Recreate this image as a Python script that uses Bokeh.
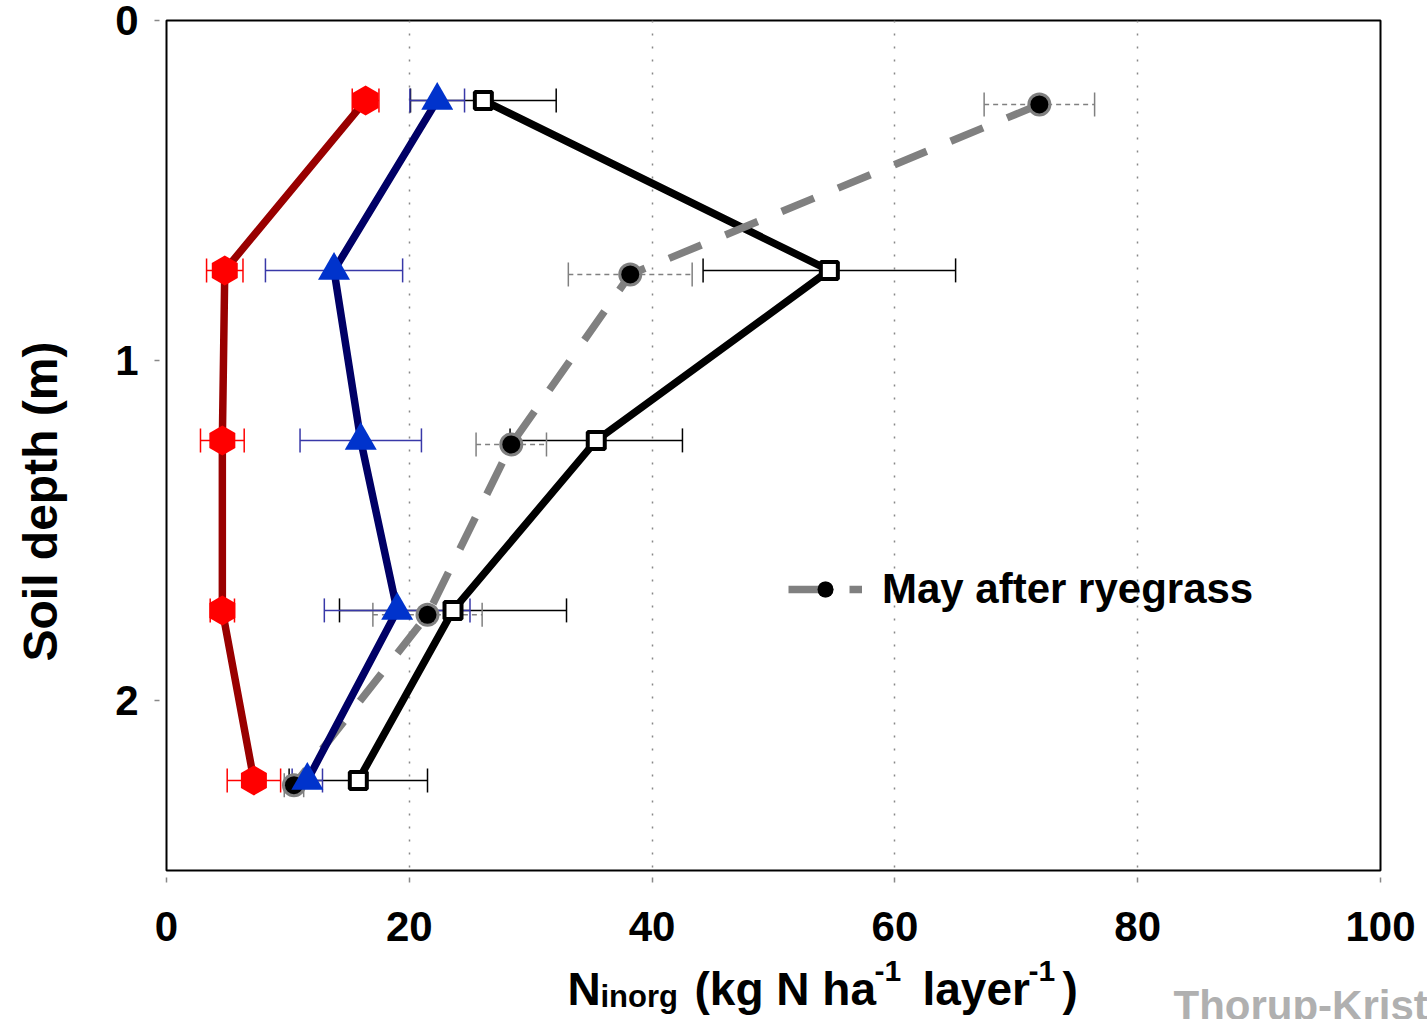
import numpy as np
from bokeh.plotting import figure
from bokeh.layouts import row, column
from bokeh.models import (ColumnDataSource, Whisker, TeeHead, Range1d, FixedTicker,
                          Label, Legend, LegendItem)
from bokeh.embed import file_html
from bokeh.resources import INLINE

# ---------------- data ----------------
depth_main = [0.235, 0.735, 1.235, 1.735, 2.235]
depth_gray = [0.247, 0.747, 1.247, 1.748, 2.249]

red_x = [16.4, 4.8, 4.6, 4.6, 7.2]
red_err = [1.1, 1.5, 1.8, 1.0, 2.2]

blue_x = [22.3, 13.8, 16.0, 19.0, 11.6]
blue_err = [2.25, 5.65, 5.0, 6.0, 1.25]

black_x = [26.1, 54.6, 35.4, 23.6, 15.8]
black_err = [6.0, 10.4, 7.1, 9.35, 5.7]

gray_x = [71.9, 38.2, 28.4, 21.5, 10.5]
gray_err = [4.55, 5.1, 2.9, 4.5, 0.8]

x_ticks = [0, 20, 40, 60, 80, 100]
y_ticks = [0, 1, 2]
legend_label = "May after ryegrass"
y_label = "Soil depth (m)"
watermark = "Thorup-Kristensen"

FONT = "Liberation Sans"
W, H = 1427, 1019
LEFT_W = 70        # width of the strip holding the y-axis title
BOT_H = 59         # height of the strip holding the x-axis title

# ---------------- main plot ----------------
p = figure(width=W - LEFT_W, height=H - BOT_H, output_backend="svg",
           toolbar_location=None,
           x_range=Range1d(0, 100), y_range=Range1d(2.5, 0),
           min_border_left=166 - LEFT_W, min_border_right=47, min_border_top=20,
           min_border_bottom=(H - BOT_H) - 870)
p.frame_align = False
p.background_fill_color = "white"
p.border_fill_color = "white"
p.outline_line_color = "black"
p.outline_line_width = 2

for ax in (p.xaxis[0], p.yaxis[0]):
    ax.axis_line_color = None
    ax.major_tick_in = -7
    ax.major_tick_out = 12
    ax.major_tick_line_color = "#888888"
    ax.major_tick_line_width = 1.5
    ax.minor_tick_line_color = None
    ax.major_label_text_font = FONT
    ax.major_label_text_font_style = "bold"
    ax.major_label_text_font_size = "42px"
    ax.major_label_text_color = "black"

p.xaxis.ticker = FixedTicker(ticks=x_ticks)
p.yaxis.ticker = FixedTicker(ticks=y_ticks)
p.xaxis.major_label_standoff = 29
p.yaxis.major_label_standoff = 16

p.xgrid.ticker = FixedTicker(ticks=[20, 40, 60, 80])
p.xgrid.grid_line_color = "#888888"
p.xgrid.grid_line_dash = "2 11"
p.xgrid.grid_line_width = 1.5
p.ygrid.visible = False


def whiskers(xs, errs, ys, color, dash="solid"):
    src = ColumnDataSource(dict(
        y=ys,
        lo=[a - e for a, e in zip(xs, errs)],
        hi=[a + e for a, e in zip(xs, errs)]))
    w = Whisker(source=src, base="y", lower="lo", upper="hi", dimension="width",
                line_color=color, line_width=1.5, line_dash=dash, level="underlay",
                upper_head=TeeHead(size=24, line_color=color, line_width=1.5),
                lower_head=TeeHead(size=24, line_color=color, line_width=1.5))
    p.add_layout(w)


whiskers(black_x, black_err, depth_main, "black")
whiskers(gray_x, gray_err, depth_gray, "#808080", "5 4")
whiskers(blue_x, blue_err, depth_main, "#3838a8")
whiskers(red_x, red_err, depth_main, "#ff0000")

p.line(black_x, depth_main, line_color="black", line_width=7.5, line_join="miter")
gray_line = p.line(gray_x, depth_gray, line_color="#808080", line_width=7.5,
                   line_dash="35 26")
gray_ring = p.scatter(gray_x, depth_gray, marker="circle", size=24,
                      fill_color="#808080", line_color=None)
gray_dot = p.scatter(gray_x, depth_gray, marker="circle", size=18,
                     fill_color="black", line_color=None)
p.scatter(black_x, depth_main, marker="square", size=17, fill_color="white",
          line_color="black", line_width=4)
p.line(blue_x, depth_main, line_color="#000066", line_width=7.5)
p.scatter(blue_x, depth_main, marker="triangle", size=32, fill_color="#0033cc",
          line_color=None)
p.line(red_x, depth_main, line_color="#990000", line_width=7.5)
p.scatter(red_x, depth_main, marker="hex", size=30, angle=np.pi / 2,
          fill_color="#ff0000", line_color=None)

legend = Legend(items=[LegendItem(label=legend_label,
                                  renderers=[gray_line, gray_ring, gray_dot])],
                location=(622, 257), glyph_width=74, glyph_height=40,
                label_height=40, padding=0, margin=0, label_standoff=20,
                label_text_font=FONT, label_text_font_style="bold",
                label_text_font_size="42px", label_text_color="black",
                background_fill_alpha=0, border_line_color=None)
p.add_layout(legend)


def blank(width, height, xr, yr):
    f = figure(width=width, height=height, output_backend="svg",
               toolbar_location=None, x_axis_type=None, y_axis_type=None,
               x_range=Range1d(*xr), y_range=Range1d(*yr),
               min_border=0, min_border_left=0, min_border_right=0,
               min_border_top=0, min_border_bottom=0)
    f.frame_align = False
    f.outline_line_color = None
    f.grid.visible = False
    f.background_fill_color = "white"
    f.border_fill_color = "white"
    return f


# ---------------- left strip: y-axis title ----------------
pL = blank(LEFT_W, H, (0, LEFT_W), (H, 0))
pL.add_layout(Label(x=40, y=501, text=y_label, angle=np.pi / 2,
                    text_font=FONT, text_font_style="bold", text_font_size="48px",
                    text_color="black", text_align="center",
                    text_baseline="middle"))

# ---------------- bottom strip: x-axis title ----------------
pB = blank(W - LEFT_W, BOT_H, (LEFT_W, W), (H, H - BOT_H))
DY = -15  # empirical shift of the strip's baseline


def lab(text, px, py, size, color="black"):
    pB.add_layout(Label(x=px, y=py + DY, text=text, text_font=FONT,
                        text_font_style="bold", text_font_size=size,
                        text_color=color, text_baseline="alphabetic",
                        text_align="left"))


lab("N", 567, 1003, "46px")
lab("inorg", 600, 1011, "31px")
lab("(kg N ha", 694, 1003, "46px")
lab("-1", 874, 985, "30px")
lab("layer", 922, 1003, "46px")
lab("-1", 1028, 985, "30px")
lab(")", 1062, 1003, "46px")
lab(watermark, 1173, 1020, "42px", "#b0b0b0")

layout = row(pL, column(p, pB, spacing=0), spacing=0)
open("out.html", "w").write(file_html(layout, INLINE))
